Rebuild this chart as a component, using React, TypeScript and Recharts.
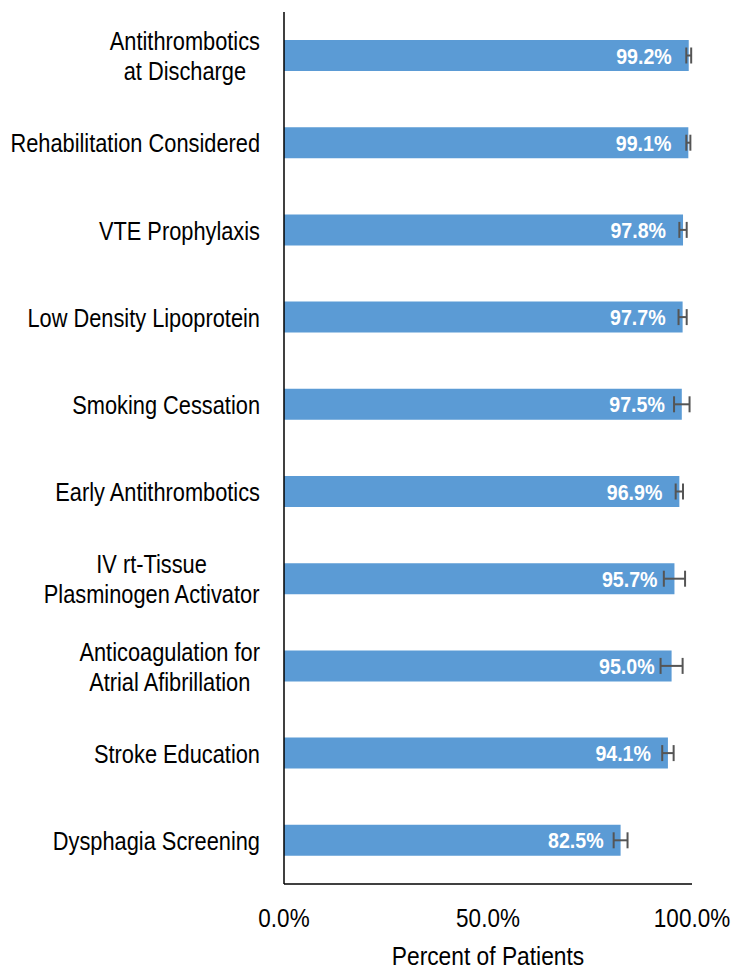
import React from 'react';
import { BarChart, Bar, XAxis, YAxis, ErrorBar, LabelList, Label } from 'recharts';

const categories = [
  'Antithrombotics\nat Discharge',
  'Rehabilitation Considered',
  'VTE Prophylaxis',
  'Low Density Lipoprotein',
  'Smoking Cessation',
  'Early Antithrombotics',
  'IV rt-Tissue\nPlasminogen Activator',
  'Anticoagulation for\nAtrial Afibrillation',
  'Stroke Education',
  'Dysphagia Screening',
];
const values = [99.2, 99.1, 97.8, 97.7, 97.5, 96.9, 95.7, 95.0, 94.1, 82.5];
const errors = [0.6, 0.5, 0.9, 1.0, 1.9, 0.9, 2.6, 2.7, 1.4, 1.7];
const xTicks = [0, 50, 100];

const data = categories.map((name, i) => ({ name, value: values[i], err: errors[i] }));

const FONT = "'Liberation Sans', Arial, sans-serif";
const LABEL_SIZE = 21.8;
const SY = 1.15;

let ctx: CanvasRenderingContext2D | null = null;
function measure(text: string): number {
  if (!ctx) {
    const c = document.createElement('canvas');
    ctx = c.getContext('2d');
  }
  if (!ctx) return text.length * LABEL_SIZE * 0.5;
  ctx.font = `${LABEL_SIZE}px 'Liberation Sans'`;
  return ctx.measureText(text).width;
}

const T = ({ x, y, anchor, size, weight, fill, children }: any) => (
  <text
    transform={`translate(${x},${y}) scale(1,${SY})`}
    x={0}
    y={0}
    textAnchor={anchor}
    dominantBaseline="central"
    fontSize={size}
    fontWeight={weight || 'normal'}
    fontFamily={FONT}
    fill={fill || '#000'}
  >
    {children}
  </text>
);

const CategoryTick = (props: any) => {
  const { y, payload } = props;
  const lines: string[] = String(payload.value).split('\n');
  const right = 260;
  const lineH = 30;
  if (lines.length === 1) {
    return <T x={right} y={y + 1} anchor="end" size={LABEL_SIZE}>{lines[0]}</T>;
  }
  const maxW = Math.max(...lines.map(measure));
  const cx = right - maxW / 2;
  const startY = y + 1 - ((lines.length - 1) * lineH) / 2;
  return (
    <g>
      {lines.map((l, i) => (
        <T key={i} x={cx} y={startY + i * lineH} anchor="middle" size={LABEL_SIZE}>{l}</T>
      ))}
    </g>
  );
};

const XTick = (props: any) => {
  const { x, y, payload } = props;
  return <T x={x} y={y + 34} anchor="middle" size={22.5}>{Number(payload.value).toFixed(1) + '%'}</T>;
};

const AxisTitle = (props: any) => {
  const vb = props.viewBox || {};
  return <T x={vb.x + vb.width / 2} y={vb.y + 72} anchor="middle" size={22.8}>Percent of Patients</T>;
};

const BarValueLabel = (props: any) => {
  const { x, y, width, height, value } = props;
  return (
    <T x={x + width - 17} y={y + height / 2} anchor="end" size={19.6} weight="bold" fill="#fff">
      {Number(value).toFixed(1) + '%'}
    </T>
  );
};

export default function App() {
  return (
    <div style={{ position: 'absolute', left: 0, top: 0, width: 733, height: 970, background: '#fff' }}>
      <BarChart
        width={733}
        height={970}
        data={data}
        layout="vertical"
        margin={{ top: 12, right: 41, bottom: 0, left: 0 }}
        barCategoryGap={0}
      >
        <XAxis
          type="number"
          domain={[0, 100]}
          ticks={xTicks}
          axisLine={{ stroke: '#000', strokeWidth: 1.5 }}
          tickLine={false}
          tickSize={0}
          tickMargin={0}
          height={86}
          tick={<XTick />}
        >
          <Label content={<AxisTitle />} />
        </XAxis>
        <YAxis
          type="category"
          dataKey="name"
          width={284}
          axisLine={{ stroke: '#000', strokeWidth: 1.5 }}
          tickLine={false}
          tick={<CategoryTick />}
          interval={0}
        />
        <Bar dataKey="value" fill="#5B9BD5" barSize={31} isAnimationActive={false}>
          <LabelList dataKey="value" content={<BarValueLabel />} />
          <ErrorBar dataKey="err" direction="x" width={8} stroke="#555555" strokeWidth={2} />
        </Bar>
      </BarChart>
    </div>
  );
}
